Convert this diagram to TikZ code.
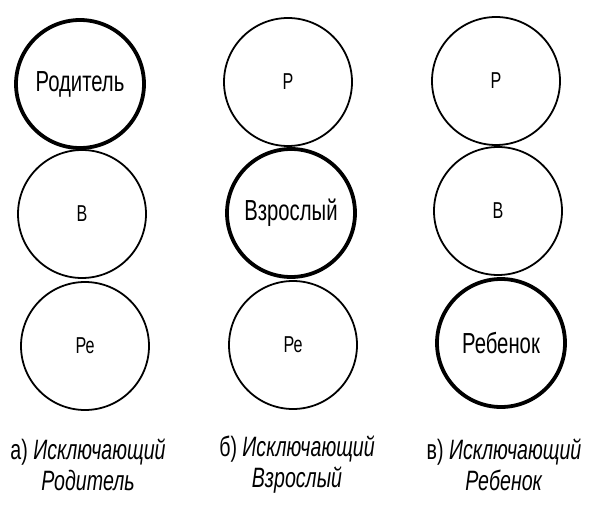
\documentclass[tikz,border=0pt]{standalone}
\usepackage{fontspec}
\setmainfont{Liberation Sans}[FakeStretch=0.7]
\usetikzlibrary{positioning}

\tikzset{
  ring/.style={circle,draw,line width=1.8pt,minimum size=128pt,inner sep=0pt,
    font=\fontsize{23}{26}\selectfont},
  heavy/.style={ring,line width=3.8pt,font=\fontsize{29}{32}\selectfont},
  caption/.style={align=center,font=\fontsize{28}{31}\selectfont}
}

\begin{document}
\begin{tikzpicture}[x=1pt,y=-1pt]
\useasboundingbox (0,0) rectangle (597,505);

% а) Исключающий Родитель
\node[heavy] (r1) at (80,84) {Родитель};
\node[ring] (v1) at (82,214) {В};
\node[ring] (re1) at (85,346) {Ре};
\node[caption] (c1) at (88,465) {а) \textit{Исключающий}\\\textit{Родитель}};

% б) Исключающий Взрослый
\node[ring] (r2) at (288,82) {Р};
\node[heavy] (v2) at (291,213) {Взрослый};
\node[ring] (re2) at (293,345) {Ре};
\node[caption] (c2) at (297,465) {б) \textit{Исключающий}\\\textit{Взрослый}};

% в) Исключающий Ребенок
\node[ring] (r3) at (496,81) {Р};
\node[ring] (v3) at (498,211) {В};
\node[heavy] (re3) at (501,343) {Ребенок};
\node[caption] (c3) at (504,465) {в) \textit{Исключающий}\\\textit{Ребенок}};
\end{tikzpicture}
\end{document}
